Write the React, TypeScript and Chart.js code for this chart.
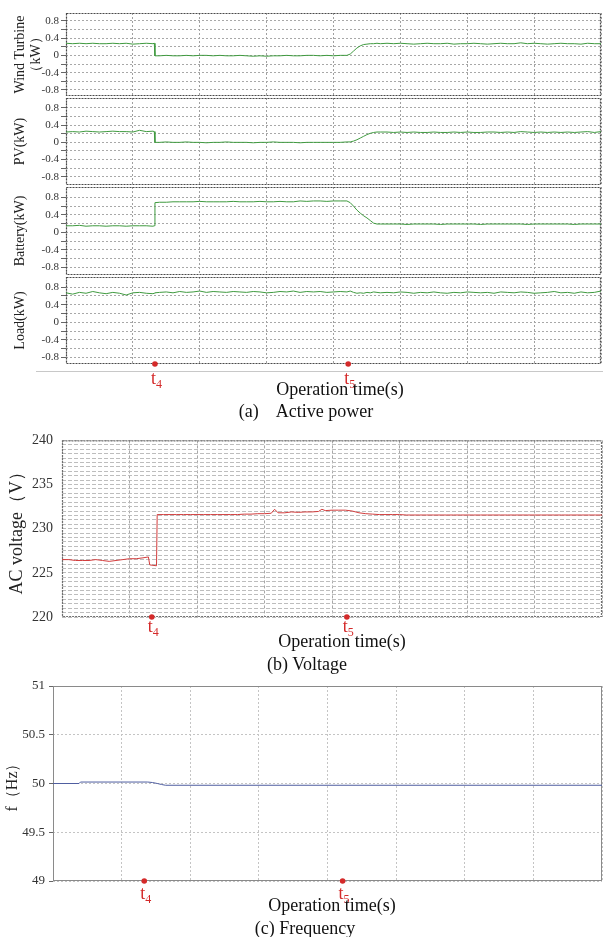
import React, { useEffect, useRef } from 'react';
import { Chart, registerables } from 'chart.js';

Chart.register(...registerables);

const W = 603;
const SERIF = '"Liberation Serif", "Times New Roman", serif';

// ---------- shared time axis ----------
const timeGrid = [0, 1, 2, 3, 4, 5, 6, 7, 8];
const markerTimes = [1.33, 4.22];
const markerSubs = ['4', '5'];

// ---------- (a) active power ----------
const timeA = [
  0, 0.1, 0.2, 0.3, 0.4, 0.5, 0.6, 0.7, 0.8, 0.9, 1.0, 1.1, 1.2, 1.3,
  1.32, 1.33,
  1.4, 1.5, 1.6, 1.7, 1.8, 1.9, 2.0, 2.1, 2.2, 2.3, 2.4, 2.5, 2.6, 2.7, 2.8, 2.9, 3.0, 3.1, 3.2, 3.3, 3.4, 3.5, 3.6, 3.7, 3.8, 3.9, 4.0, 4.1, 4.2,
  4.25, 4.3, 4.35, 4.4, 4.45, 4.5, 4.55, 4.6, 4.65, 4.7,
  4.8, 4.9, 5.0, 5.1, 5.2, 5.3, 5.4, 5.5, 5.6, 5.7, 5.8, 5.9, 6.0, 6.1, 6.2, 6.3, 6.4, 6.5, 6.6, 6.7, 6.8, 6.9, 7.0, 7.1, 7.2, 7.3, 7.4, 7.5, 7.6, 7.7, 7.8, 7.9, 8.0,
];
const windKW = [
  0.28, 0.27, 0.28, 0.27, 0.28, 0.27, 0.27, 0.28, 0.27, 0.28, 0.26, 0.27, 0.28, 0.27,
  0.28, -0.01,
  -0.01, 0.0, -0.01, -0.01, 0.0, -0.01, 0.0, 0.0, -0.01, 0.0,
  -0.01, -0.01, 0.0, -0.01, -0.02, -0.01, -0.02, -0.01, -0.01, 0.0,
  -0.01, -0.01, 0.0, 0.0, -0.01, 0.0, -0.01, 0.0, 0.0,
  0.03, 0.1, 0.17, 0.22, 0.25, 0.26, 0.27, 0.27, 0.28, 0.27,
  0.28, 0.27, 0.28, 0.27, 0.26, 0.27, 0.28, 0.27, 0.27, 0.28,
  0.26, 0.27, 0.27, 0.28, 0.27, 0.26, 0.27, 0.28, 0.27, 0.27,
  0.29, 0.27, 0.28, 0.27, 0.26, 0.27, 0.28, 0.27, 0.27, 0.26,
  0.28, 0.27, 0.27,
];
const pvKW = [
  0.24, 0.25, 0.24, 0.26, 0.25, 0.24, 0.25, 0.26, 0.25, 0.25, 0.24, 0.28, 0.25, 0.26,
  0.25, 0.0,
  0.0, 0.01, 0.0, 0.0, 0.01, 0.0, 0.0, -0.01, 0.0, 0.0,
  0.01, 0.0, 0.0, 0.0, -0.01, 0.0, 0.0, 0.01, 0.0, 0.0,
  0.0, -0.01, 0.0, 0.0, 0.0, 0.0, 0.0, 0.0, 0.01,
  0.01, 0.03, 0.06, 0.1, 0.14, 0.18, 0.21, 0.23, 0.24, 0.24,
  0.24, 0.23, 0.24, 0.23, 0.24, 0.23, 0.23, 0.24, 0.23, 0.23,
  0.24, 0.23, 0.24, 0.23, 0.23, 0.24, 0.24, 0.23, 0.24, 0.23,
  0.25, 0.24, 0.23, 0.24, 0.23, 0.24, 0.23, 0.24, 0.23, 0.24,
  0.25, 0.23, 0.25,
];
const batteryKW = [
  0.15, 0.15, 0.16, 0.14, 0.15, 0.15, 0.14, 0.15, 0.15, 0.14, 0.15, 0.15, 0.15, 0.14,
  0.15, 0.68,
  0.69, 0.69, 0.7, 0.7, 0.7, 0.7, 0.71, 0.7, 0.7, 0.7,
  0.7, 0.71, 0.7, 0.7, 0.7, 0.71, 0.7, 0.7, 0.71, 0.7,
  0.7, 0.72, 0.71, 0.72, 0.72, 0.71, 0.72, 0.72, 0.72,
  0.68, 0.6, 0.51, 0.44, 0.38, 0.33, 0.27, 0.21, 0.19, 0.19,
  0.19, 0.19, 0.19, 0.18, 0.19, 0.19, 0.19, 0.19, 0.18, 0.19,
  0.19, 0.19, 0.19, 0.19, 0.18, 0.19, 0.19, 0.19, 0.19, 0.19,
  0.19, 0.18, 0.19, 0.19, 0.19, 0.19, 0.19, 0.19, 0.18, 0.19,
  0.19, 0.19, 0.19,
];
const loadKW = [
  0.67, 0.64, 0.68, 0.66, 0.7, 0.67, 0.65, 0.68, 0.66, 0.62, 0.67, 0.68, 0.66, 0.65,
  0.66, 0.67,
  0.68, 0.69, 0.67, 0.7, 0.68, 0.69, 0.71, 0.68, 0.7, 0.69,
  0.68, 0.7, 0.69, 0.68, 0.7, 0.69, 0.67, 0.68, 0.7, 0.69,
  0.71, 0.68, 0.7, 0.69, 0.7, 0.68, 0.69, 0.7, 0.69,
  0.71, 0.68, 0.66, 0.67, 0.66, 0.68, 0.67, 0.69, 0.68, 0.67,
  0.68, 0.67, 0.69, 0.68, 0.66, 0.68, 0.67, 0.69, 0.67, 0.66,
  0.68, 0.67, 0.69, 0.68, 0.67, 0.68, 0.66, 0.69, 0.68, 0.67,
  0.69, 0.68, 0.66, 0.67, 0.68, 0.7, 0.67, 0.68, 0.66, 0.69,
  0.67, 0.68, 0.71,
];
const powerGrid = [-0.8, -0.6, -0.4, -0.2, 0, 0.2, 0.4, 0.6, 0.8];
const powerTickVals = [-0.8, -0.4, 0, 0.4, 0.8];
const powerTickLabels = ['-0.8', '-0.4', '0', '0.4', '0.8'];

// ---------- (b) voltage ----------
const timeV = [
  0, 0.1, 0.2, 0.3, 0.4, 0.5, 0.6, 0.7, 0.8, 0.9, 1.0, 1.1, 1.2, 1.28, 1.3, 1.4, 1.41,
  1.5, 1.6, 1.7, 1.8, 1.9, 2.0, 2.1, 2.2, 2.3, 2.4, 2.5, 2.6, 2.7, 2.8, 2.9,
  3.0, 3.1, 3.15, 3.2, 3.3, 3.4, 3.5, 3.6, 3.7, 3.8, 3.85, 3.9, 4.0, 4.1, 4.2, 4.3, 4.4, 4.5, 4.6, 4.7,
  4.8, 4.9, 5.0, 5.1, 5.2, 5.3, 5.4, 5.5, 5.6, 5.7, 5.8, 5.9, 6.0, 6.1, 6.2, 6.3, 6.4, 6.5, 6.6, 6.7, 6.8, 6.9, 7.0, 7.1, 7.2, 7.3, 7.4, 7.5, 7.6, 7.7, 7.8, 7.9, 8.0,
];
const voltV = [
  226.5, 226.5, 226.4, 226.4, 226.4, 226.5, 226.4, 226.3, 226.4, 226.5, 226.6, 226.6, 226.7, 226.8, 225.9, 225.8, 231.6,
  231.6, 231.6, 231.6, 231.6, 231.6, 231.6, 231.6, 231.6, 231.6, 231.6, 231.6, 231.6, 231.65, 231.65, 231.7,
  231.7, 231.75, 232.2, 231.8, 231.8, 231.9, 231.85, 231.9, 231.9, 231.95, 232.2, 232.05, 232.1, 232.1, 232.1, 232.0, 231.8, 231.7, 231.65, 231.6,
  231.6, 231.6, 231.6, 231.55, 231.55, 231.55, 231.55, 231.55, 231.55, 231.55, 231.55,
  231.55, 231.55, 231.55, 231.55, 231.55, 231.55, 231.55, 231.55, 231.55, 231.55, 231.55,
  231.55, 231.55, 231.55, 231.55, 231.55, 231.55, 231.55, 231.55, 231.55, 231.55, 231.55,
];
const voltGrid = [220.5, 221, 221.5, 222, 222.5, 223, 223.5, 224, 224.5, 225, 225.5, 226, 226.5, 227, 227.5, 228, 228.5, 229, 229.5,
  230, 230.5, 231, 231.5, 232, 232.5, 233, 233.5, 234, 234.5, 235, 235.5, 236, 236.5, 237, 237.5, 238, 238.5, 239, 239.5, 220, 240];
const voltTickVals = [220, 225, 230, 235, 240];
const voltTickLabels = ['220', '225', '230', '235', '240'];

// ---------- (c) frequency ----------
const timeF = [0, 0.38, 0.4, 1.38, 1.45, 1.52, 1.58, 1.64, 8.0];
const freqHz = [50.0, 50.0, 50.015, 50.015, 50.01, 50.0, 49.99, 49.982, 49.982];
const freqGrid = [49, 49.5, 50, 50.5, 51];
const freqTickVals = [49, 49.5, 50, 50.5, 51];
const freqTickLabels = ['49', '49.5', '50', '50.5', '51'];

// ---------- plugins ----------
const framePlugin = {
  id: 'frame',
  beforeDatasetsDraw(chart: any, _a: any, o: any) {
    const { left, top, right, bottom } = chart.chartArea;
    const ctx = chart.ctx;
    ctx.save();
    ctx.strokeStyle = o.color;
    ctx.lineWidth = o.width;
    ctx.setLineDash(o.dash || []);
    ctx.strokeRect(left + 0.5, top + 0.5, right - left - 1, bottom - top - 1);
    ctx.restore();
  },
};

const marksPlugin = {
  id: 'tmarks',
  afterDraw(chart: any, _a: any, o: any) {
    const ctx = chart.ctx;
    const xs = chart.scales.x;
    const y = chart.chartArea.bottom;
    ctx.save();
    ctx.fillStyle = '#d42a2a';
    markerTimes.forEach((t, i) => {
      const x = xs.getPixelForValue(t);
      ctx.beginPath();
      ctx.arc(x, y, 2.8, 0, Math.PI * 2);
      ctx.fill();
      ctx.textBaseline = 'alphabetic';
      ctx.font = `${o.size}px ${SERIF}`;
      ctx.textAlign = 'right';
      ctx.fillText('t', x + 1, y + o.baseline);
      ctx.font = `${o.subSize}px ${SERIF}`;
      ctx.textAlign = 'left';
      ctx.fillText(markerSubs[i], x + 1, y + o.baseline + o.subDrop);
    });
    ctx.restore();
  },
};

type LineStyle = { color: string; dash: number[]; width: number };
type Spec = {
  xs: number[]; ys: number[]; color: string;
  yMin: number; yMax: number; yGrid: number[]; yTickVals: number[]; yTickLabels: string[];
  title: string | string[]; titleSize: number; titlePad: number;
  tickSize: number; tickPad: number; tickLen: number;
  plot: { left: number; right: number; top: number; bottom: number };
  padTop: number; padBottom: number;
  hGrid: LineStyle; vGrid: LineStyle; frame: LineStyle;
  marks?: { size: number; subSize: number; baseline: number; subDrop: number };
};

function buildConfig(s: Spec): any {
  return {
    type: 'line',
    data: {
      datasets: [{
        data: s.xs.map((x, i) => ({ x, y: s.ys[i] })),
        borderColor: s.color, borderWidth: 1, pointRadius: 0, fill: false, tension: 0,
      }],
    },
    options: {
      responsive: false, animation: false, devicePixelRatio: 1, events: [],
      layout: { padding: { left: 0, right: W - s.plot.right, top: s.padTop, bottom: s.padBottom } },
      plugins: {
        legend: { display: false }, tooltip: { enabled: false },
        frame: s.frame, tmarks: s.marks ? s.marks : false,
      },
      scales: {
        x: {
          type: 'linear', min: 0, max: 8,
          afterBuildTicks: (sc: any) => { sc.ticks = timeGrid.map((v) => ({ value: v })); },
          ticks: { display: false },
          grid: { color: s.vGrid.color, lineWidth: s.vGrid.width, drawTicks: false },
          border: { display: false, dash: s.vGrid.dash },
        },
        y: {
          type: 'linear', min: s.yMin, max: s.yMax,
          afterBuildTicks: (sc: any) => { sc.ticks = s.yGrid.map((v) => ({ value: v })); },
          afterFit: (sc: any) => { sc.width = s.plot.left; },
          ticks: {
            autoSkip: false, color: '#333', padding: s.tickPad,
            font: { family: SERIF, size: s.tickSize },
            callback: (v: number) => {
              const i = s.yTickVals.findIndex((t) => Math.abs(t - v) < 1e-9);
              return i >= 0 ? s.yTickLabels[i] : '';
            },
          },
          grid: {
            color: s.hGrid.color, lineWidth: s.hGrid.width,
            drawTicks: s.tickLen > 0, tickLength: s.tickLen, tickColor: '#666', tickWidth: 1,
          },
          border: { display: false, dash: s.hGrid.dash },
          title: {
            display: true, text: s.title, color: '#222',
            font: { family: SERIF, size: s.titleSize, lineHeight: 1.2 },
            padding: { top: s.titlePad, bottom: 0 },
          },
        },
      },
    },
    plugins: [framePlugin, marksPlugin],
  };
}

function ChartBox({ spec }: { spec: Spec }) {
  const ref = useRef<HTMLCanvasElement>(null);
  const top = spec.plot.top - spec.padTop;
  const height = spec.plot.bottom - spec.plot.top + spec.padTop + spec.padBottom;
  useEffect(() => {
    const c = new Chart(ref.current as HTMLCanvasElement, buildConfig(spec));
    return () => c.destroy();
  }, []);
  return (
    <canvas ref={ref} width={W} height={height}
      style={{ position: 'absolute', left: 0, top, width: W, height }} />
  );
}

function Caption({ x, y, size, text }: { x: number; y: number; size: number; text: string }) {
  return (
    <div style={{
      position: 'absolute', left: x, top: y, transform: 'translate(-50%, -50%)',
      fontFamily: SERIF, fontSize: size, lineHeight: 1, color: '#111', whiteSpace: 'pre',
    }}>{text}</div>
  );
}

const GREEN = '#3f9a3f';
const powerH: LineStyle = { color: '#a8a8a8', dash: [2, 2], width: 1 };
const powerV: LineStyle = { color: '#a0a0a0', dash: [2, 2], width: 1 };
const powerF: LineStyle = { color: '#4a4a4a', dash: [2, 1], width: 1.2 };

function powerSpec(ys: number[], title: string | string[], top: number, bottom: number,
  yMin: number, yMax: number, marks?: Spec['marks'], padBottom = 12): Spec {
  return {
    xs: timeA, ys, color: GREEN, yMin, yMax, yGrid: powerGrid,
    yTickVals: powerTickVals, yTickLabels: powerTickLabels,
    title, titleSize: 14, titlePad: 11.6, tickSize: 11, tickPad: 2, tickLen: 5,
    plot: { left: 66, right: 601, top, bottom }, padTop: 12, padBottom,
    hGrid: powerH, vGrid: powerV, frame: powerF, marks,
  };
}

const specs: Spec[] = [
  powerSpec(windKW, ['Wind Turbine', '（kW）'], 13, 96, -0.94, 0.98),
  powerSpec(pvKW, 'PV(kW)', 98, 185, -0.99, 1.03),
  powerSpec(batteryKW, 'Battery(kW)', 187, 275, -0.98, 1.04),
  powerSpec(loadKW, 'Load(kW)', 277, 364, -0.95, 1.03,
    { size: 18, subSize: 12, baseline: 20, subDrop: 4 }, 34),
  {
    xs: timeV, ys: voltV, color: '#d23c3c', yMin: 220, yMax: 240, yGrid: voltGrid,
    yTickVals: voltTickVals, yTickLabels: voltTickLabels,
    title: 'AC voltage（V）', titleSize: 18, titlePad: 6.2, tickSize: 14, tickPad: 9, tickLen: 0,
    plot: { left: 62, right: 602, top: 435, bottom: 617 }, padTop: 12, padBottom: 30,
    hGrid: { color: '#bdbdbd', dash: [4, 2], width: 1 },
    vGrid: { color: '#a8a8a8', dash: [3, 2], width: 1 },
    frame: { color: '#707070', dash: [2, 1], width: 1.2 },
    marks: { size: 18, subSize: 12, baseline: 15, subDrop: 4 },
  },
  {
    xs: timeF, ys: freqHz, color: '#4f5ea0', yMin: 49, yMax: 51, yGrid: freqGrid,
    yTickVals: freqTickVals, yTickLabels: freqTickLabels,
    title: 'f（Hz）', titleSize: 16, titlePad: 3, tickSize: 13, tickPad: 4, tickLen: 4,
    plot: { left: 53, right: 602, top: 686, bottom: 881 }, padTop: 12, padBottom: 30,
    hGrid: { color: '#c4c4c4', dash: [2, 2], width: 1 },
    vGrid: { color: '#c4c4c4', dash: [2, 2], width: 1 },
    frame: { color: '#8a8a8a', dash: [], width: 1 },
    marks: { size: 18, subSize: 12, baseline: 18, subDrop: 4 },
  },
];

export default function App() {
  return (
    <div style={{ position: 'absolute', left: 0, top: 0, width: W, height: 937, background: '#fff', overflow: 'hidden' }}>
      {specs.map((s, i) => <ChartBox key={i} spec={s} />)}
      <div style={{ position: 'absolute', left: 36, top: 371, width: 567, height: 0, borderTop: '1px solid #c8c8c8' }} />
      <Caption x={340} y={389} size={18} text="Operation time(s)" />
      <Caption x={306} y={411} size={18} text={'(a)    Active power'} />
      <Caption x={342} y={641} size={18} text="Operation time(s)" />
      <Caption x={307} y={664} size={18} text="(b) Voltage" />
      <Caption x={332} y={905} size={18} text="Operation time(s)" />
      <Caption x={305} y={928} size={18} text="(c) Frequency" />
    </div>
  );
}
